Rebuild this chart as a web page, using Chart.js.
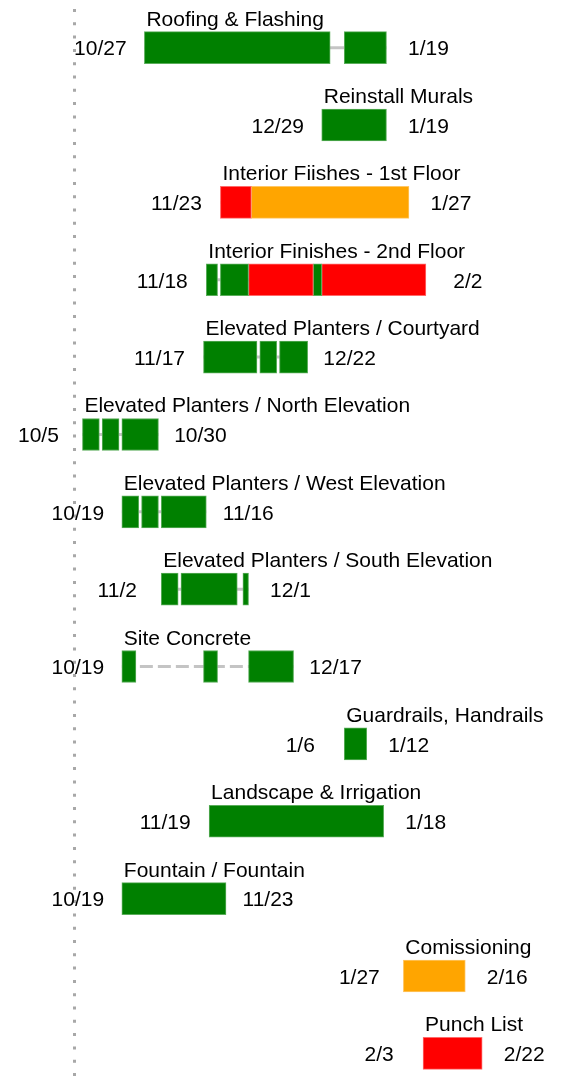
<!DOCTYPE html>
<html>
<head>
<meta charset="utf-8">
<title>Schedule</title>
<script src="https://cdn.jsdelivr.net/npm/chart.js"></script>
<style>
  html, body { margin: 0; padding: 0; background: #fff; overflow: hidden; }
  #wrap { position: relative; width: 561px; height: 1092px; }
</style>
</head>
<body>
<div id="wrap"><canvas id="ganttChart"></canvas></div>
<script>
// Tasks, top to bottom
const tasks = [
    'Roofing & Flashing',
    'Reinstall Murals',
    'Interior Fiishes - 1st Floor',
    'Interior Finishes - 2nd Floor',
    'Elevated Planters / Courtyard',
    'Elevated Planters / North Elevation',
    'Elevated Planters / West Elevation',
    'Elevated Planters / South Elevation',
    'Site Concrete',
    'Guardrails, Handrails',
    'Landscape & Irrigation',
    'Fountain / Fountain',
    'Comissioning',
    'Punch List'
];

// Work segments of each task (M/D, Oct-Dec then Jan-Feb)
const segStarts = [
    ['10/27', '1/6'],
    ['12/29'],
    ['11/23', '12/4'],
    ['11/18', '11/23', '12/3', '12/26', '12/29'],
    ['11/17', '12/7', '12/14'],
    ['10/5', '10/12', '10/19'],
    ['10/19', '10/26', '11/2'],
    ['11/2', '11/9', '12/1'],
    ['10/19', '11/17', '12/3'],
    ['1/6'],
    ['11/19'],
    ['10/19'],
    ['1/27'],
    ['2/3']
];
const segEnds = [
    ['12/30', '1/19'],
    ['1/19'],
    ['12/2', '1/27'],
    ['11/20', '12/1', '12/24', '12/27', '2/2'],
    ['12/4', '12/11', '12/22'],
    ['10/9', '10/16', '10/30'],
    ['10/23', '10/30', '11/16'],
    ['11/6', '11/27', '12/1'],
    ['10/22', '11/20', '12/17'],
    ['1/12'],
    ['1/18'],
    ['11/23'],
    ['2/16'],
    ['2/22']
];
// ok = on schedule, late = behind, risk = at risk
const segStatus = [
    ['ok', 'ok'],
    ['ok'],
    ['late', 'risk'],
    ['ok', 'ok', 'late', 'ok', 'late'],
    ['ok', 'ok', 'ok'],
    ['ok', 'ok', 'ok'],
    ['ok', 'ok', 'ok'],
    ['ok', 'ok', 'ok'],
    ['ok', 'ok', 'ok'],
    ['ok'],
    ['ok'],
    ['ok'],
    ['risk'],
    ['late']
];
const dashedLinks = ['Site Concrete'];

const X_MIN = '10/2';
const X_MAX = '3/24';
const MARKER = '10/2'; // dotted vertical marker line
const END_PAD = 2; // finish dates are inclusive, bar runs past the finish day

const fill = { ok: '#008000', late: '#ff0000', risk: '#ffa500' };
const edge = { ok: '#5aad5a', late: '#ff6a6a', risk: '#ffc766' };

// days from 10/5
function toDay(md) {
    const [m, d] = md.split('/').map(Number);
    const year = m >= 7 ? 2022 : 2023;
    return Math.round((Date.UTC(year, m - 1, d) - Date.UTC(2022, 9, 5)) / 86400000);
}

const maxSegs = Math.max(...segStarts.map(s => s.length));
const datasets = [];

for (let k = 0; k < maxSegs; k++) {
    datasets.push({
        type: 'bar',
        data: tasks.map((t, i) => segStarts[i][k] ? [toDay(segStarts[i][k]), toDay(segEnds[i][k]) + END_PAD] : null),
        backgroundColor: tasks.map((t, i) => fill[segStatus[i][k]] || 'transparent'),
        borderColor: tasks.map((t, i) => edge[segStatus[i][k]] || 'transparent'),
        borderWidth: 1,
        borderSkipped: false,
        barThickness: 32,
        grouped: false,
        order: 0
    });
}

// thin connector behind split tasks
tasks.forEach((t, i) => {
    if (segStarts[i].length < 2) return;
    datasets.push({
        type: 'line',
        indexAxis: 'y',
        data: [
            { x: toDay(segStarts[i][0]), y: t },
            { x: toDay(segEnds[i][segEnds[i].length - 1]) + END_PAD, y: t }
        ],
        borderColor: '#c4c4c4',
        borderWidth: 3,
        borderDash: dashedLinks.includes(t) ? [13, 5] : [],
        pointRadius: 0,
        order: 1
    });
});

// task name above the bar, start/finish dates either side
const taskLabels = {
    id: 'taskLabels',
    afterDatasetsDraw(chart) {
        const { ctx, scales: { x, y } } = chart;
        ctx.save();
        ctx.font = '21px "Liberation Sans", Arial, sans-serif';
        ctx.fillStyle = '#000';
        tasks.forEach((name, i) => {
            const first = segStarts[i][0];
            const last = segEnds[i][segEnds[i].length - 1];
            const yc = y.getPixelForValue(i);
            const x0 = x.getPixelForValue(toDay(first));
            const x1 = x.getPixelForValue(toDay(last) + END_PAD);
            ctx.textBaseline = 'alphabetic';
            ctx.textAlign = 'left';
            ctx.fillText(name, x0 + 2, yc - 22);
            ctx.textBaseline = 'middle';
            ctx.textAlign = 'center';
            ctx.fillText(first, x0 - 44, yc + 2);
            ctx.fillText(last, x1 + 42, yc + 2);
        });
        ctx.restore();
    }
};

const ctx = document.getElementById('ganttChart').getContext('2d');
const ganttChart = new Chart(ctx, {
    type: 'bar',
    data: { labels: tasks, datasets: datasets },
    options: {
        indexAxis: 'y',
        responsive: true,
        maintainAspectRatio: false,
        animation: false,
        layout: { padding: { left: 74, top: 9, right: 0, bottom: 0 } },
        scales: {
            x: {
                type: 'linear',
                min: toDay(X_MIN),
                max: toDay(X_MAX),
                afterBuildTicks: axis => { axis.ticks = [{ value: toDay(MARKER) }]; },
                ticks: { display: false },
                grid: { color: '#a8a8a8', lineWidth: 3, drawTicks: false },
                border: { display: false, dash: [3, 10.3] }
            },
            y: {
                type: 'category',
                offset: true,
                ticks: { display: false },
                grid: { display: false, drawTicks: false },
                border: { display: false }
            }
        },
        plugins: {
            legend: { display: false },
            tooltip: { enabled: false }
        }
    },
    plugins: [taskLabels]
});
</script>
</body>
</html>
